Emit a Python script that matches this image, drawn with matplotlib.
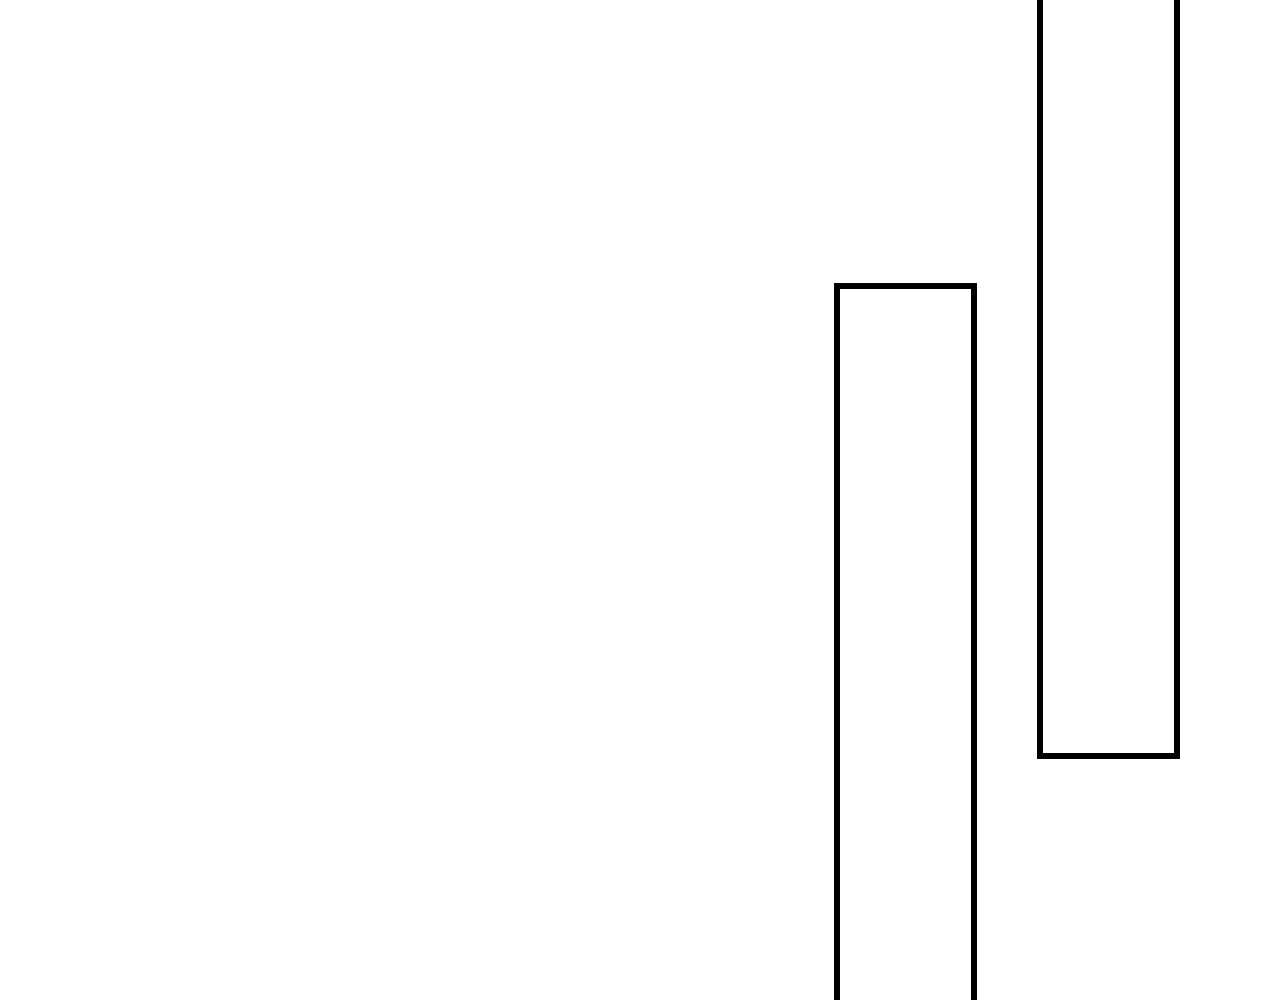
import numpy as np
import matplotlib
matplotlib.use('Agg')
from matplotlib import pyplot as plt

# two outlined bars, both cut off by the frame
categories = ['A', 'B']
bar_bottoms = [-60, 244]
bar_tops = [714, 1060]

heights = np.array(bar_tops) - np.array(bar_bottoms)
pos = np.arange(len(categories))

fig = plt.figure(figsize=(12.8, 10), dpi=100)
ax = fig.add_axes([0, 0, 1, 1])
bars = ax.bar(pos, heights, bottom=bar_bottoms, width=0.675,
              facecolor='white', edgecolor='black', linewidth=4.3)
for b in bars:
    b.set_joinstyle('miter')

# spacing between bars ~203 px, first bar centre at ~905 px
ax.set_xlim(-905.3 / 203, (1280 - 905.3) / 203)
ax.set_ylim(0, 1000)
ax.axis('off')

fig.savefig('out.png', dpi=100)
